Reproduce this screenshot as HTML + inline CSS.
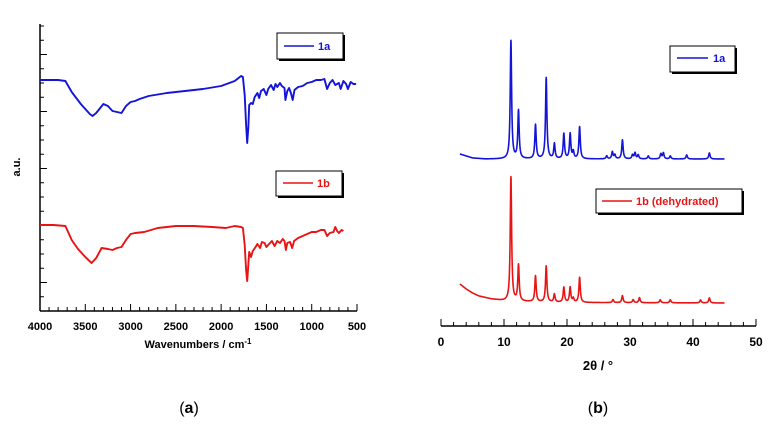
<!DOCTYPE html>
<html><head><meta charset="utf-8"><style>
body{margin:0;background:#fff;}
svg text{font-family:"Liberation Sans",Arial,sans-serif;}
</style></head><body>
<svg id="fig" width="772" height="430" viewBox="0 0 772 430" xmlns="http://www.w3.org/2000/svg">
<g id="irAxes"></g>
<g id="xrdAxes"></g>
<g id="series"></g>
<text x="20" y="167" transform="rotate(-90 20 167)" text-anchor="middle" font-size="11" font-weight="bold">a.u.</text>
<text x="198" y="348" text-anchor="middle" font-size="11" font-weight="bold">Wavenumbers / cm<tspan dy="-4" font-size="8">-1</tspan></text>
<text x="598" y="370" text-anchor="middle" font-size="13" font-weight="bold">2θ / °</text>
<text x="189" y="413" text-anchor="middle" font-size="16" font-family="Liberation Serif">(<tspan font-weight="bold">a</tspan>)</text>
<text x="598" y="413" text-anchor="middle" font-size="16" font-family="Liberation Serif">(<tspan font-weight="bold">b</tspan>)</text>
<g><rect x="279" y="35" width="66" height="26" fill="#000"/><rect x="277" y="33" width="66" height="26" fill="#fff" stroke="#000"/><line x1="284" y1="46" x2="314" y2="46" stroke="#1414d8" stroke-width="1.5"/><text x="318" y="50" font-size="11" font-weight="bold" fill="#1414d8">1a</text></g>
<g><rect x="278" y="173" width="66" height="25" fill="#000"/><rect x="276" y="171" width="66" height="25" fill="#fff" stroke="#000"/><line x1="283" y1="183" x2="313" y2="183" stroke="#e81414" stroke-width="1.5"/><text x="317" y="187" font-size="11" font-weight="bold" fill="#e81414">1b</text></g>
<g><rect x="672" y="48" width="65" height="26" fill="#000"/><rect x="670" y="46" width="65" height="26" fill="#fff" stroke="#000"/><line x1="677" y1="58" x2="708" y2="58" stroke="#1414d8" stroke-width="1.5"/><text x="713" y="62" font-size="11" font-weight="bold" fill="#1414d8">1a</text></g>
<g><rect x="598" y="191" width="146" height="24" fill="#000"/><rect x="596" y="189" width="146" height="24" fill="#fff" stroke="#000"/><line x1="602" y1="201" x2="632" y2="201" stroke="#e81414" stroke-width="1.5"/><text x="636" y="205" font-size="11" font-weight="bold" fill="#e81414">1b (dehydrated)</text></g>
</svg>
<script>
// IR data: wavenumber and absorbance (a.u., arbitrary scale)
const irBlueW=[4000,3800,3720,3650,3550,3450,3420,3380,3300,3250,3200,3150,3100,3050,3000,2950,2900,2800,2600,2400,2200,2000,1850,1780,1760,1740,1725,1712,1700,1690,1670,1650,1630,1600,1580,1560,1530,1500,1480,1450,1420,1400,1380,1350,1330,1300,1290,1270,1250,1230,1210,1190,1150,1100,1050,1000,950,900,860,830,800,770,740,700,680,650,620,600,570,540,510];
const irBlueV=[231,231,230,219,207,197,195,198,207,205,200,199,198,205,209,210,212,215,218,220,222,225,230,235,234,216,186,168,183,206,208,207,214,218,213,220,222,216,222,226,221,227,224,228,225,223,211,220,223,218,211,221,224,225,228,229,231,231,232,222,228,231,226,228,222,230,227,222,229,227,227];
const irRedW=[4000,3850,3720,3650,3580,3500,3430,3380,3320,3250,3200,3150,3100,3050,3000,2950,2850,2700,2500,2300,2100,1950,1850,1780,1760,1740,1725,1712,1700,1690,1670,1650,1620,1600,1570,1550,1520,1500,1470,1440,1410,1380,1350,1320,1300,1285,1270,1240,1215,1195,1150,1100,1000,950,900,860,830,800,760,740,720,700,670,650];
const irRedV=[86,86,85,71,62,54,48,53,63,62,61,63,64,71,77,78,79,83,85,85,84,83,85,84,83,66,41,30,46,59,54,60,64,67,63,69,68,64,67,70,65,70,68,72,70,61,68,69,63,70,73,75,79,79,81,81,75,78,79,84,80,78,81,80];
const irXTicks=[4000,3500,3000,2500,2000,1500,1000,500];
// XRD data: peak positions (2θ) and intensities, plus baseline
const xrdBluePos=[11.1,12.3,15.0,16.7,18.0,19.5,20.5,21.0,22.0,26.3,27.2,27.6,28.8,30.4,30.8,31.3,32.9,34.9,35.3,36.4,39.0,42.6];
const xrdBlueInt=[118,48,34,81,15,25,25,7,32,3,7,4,19,4,6,4,3,5,6,3,4,6];
const xrdBlueBaseX=[3,4,5,7,45];
const xrdBlueBaseY=[5,3,1,0,0];
const xrdRedPos=[11.1,12.3,15.0,16.7,18.0,19.5,20.5,21.0,22.0,27.3,28.8,30.5,31.5,34.8,36.4,41.2,42.6];
const xrdRedInt=[124,36,26,36,8,15,15,4,25,3,7,3,5,3,3,3,5];
const xrdRedBaseX=[3,4,5,6,8,10,15,20,45];
const xrdRedBaseY=[19,14,10,7,4,2.2,1,0.5,0];
const xrdXTicks=[0,10,20,30,40,50];

const NS="http://www.w3.org/2000/svg";
function mk(tag,attrs,parent){const e=document.createElementNS(NS,tag);for(const k in attrs)e.setAttribute(k,attrs[k]);parent.appendChild(e);return e;}
const irX=w=>40+(4000-w)*317/3500;
const irY=v=>311-v;
const ax=document.getElementById('irAxes');
mk('line',{x1:40,y1:24,x2:40,y2:311,stroke:'#000','stroke-width':1.5},ax);
mk('line',{x1:40,y1:311,x2:357,y2:311,stroke:'#000','stroke-width':1.5},ax);
for(let k=0;k<=20;k++){const y=311-k*14.25;if(y<23)break;const major=((k-2)%4==0);mk('line',{x1:40,y1:y,x2:major?47:44,y2:y,stroke:'#000','stroke-width':1},ax);}
for(let w=4000;w>=500;w-=100){const x=irX(w);const major=w%500==0;mk('line',{x1:x,y1:311,x2:x,y2:major?304:307,stroke:'#000','stroke-width':1},ax);}
irXTicks.forEach(w=>{const t=mk('text',{x:irX(w),y:330,'text-anchor':'middle','font-size':11,'font-weight':'bold'},ax);t.textContent=w;

});
const xX=t=>441+t*315/50;
const bx=document.getElementById('xrdAxes');
mk('line',{x1:441,y1:326,x2:756,y2:326,stroke:'#000','stroke-width':1.5},bx);
for(let t=0;t<=50;t+=2){const x=xX(t);const major=t%10==0;mk('line',{x1:x,y1:326,x2:x,y2:major?319:322,stroke:'#000','stroke-width':1},bx);}
xrdXTicks.forEach(t=>{const e=mk('text',{x:xX(t),y:346,'text-anchor':'middle','font-size':12,'font-weight':'bold'},bx);e.textContent=t;

});
const sg=document.getElementById('series');
function irPath(W,V,color,name){let d='';W.forEach((w,i)=>{d+=(i?'L':'M')+irX(w).toFixed(1)+','+irY(V[i]).toFixed(1);});
const p=mk('path',{d:d,fill:'none',stroke:color,'stroke-width':1.9,'stroke-linejoin':'round'},sg);

}
irPath(irBlueW,irBlueV,'#1414d8','ir-line-1a');
irPath(irRedW,irRedV,'#e81414','ir-line-1b');
function interp(xs,ys,t){if(t<=xs[0])return ys[0];for(let i=1;i<xs.length;i++){if(t<=xs[i]){const f=(t-xs[i-1])/(xs[i]-xs[i-1]);return ys[i-1]+f*(ys[i]-ys[i-1]);}}return ys[ys.length-1];}
function xrdPath(P,I,BX,BY,base,color,name){let d='';let first=true;const hw=0.13;
for(let t=3;t<=45.001;t+=0.02){let v=interp(BX,BY,t);P.forEach((p,i)=>{const u=(t-p)/hw;v+=I[i]/(1+u*u);});
d+=(first?'M':'L')+xX(t).toFixed(2)+','+(base-v).toFixed(2);first=false;}
const p=mk('path',{d:d,fill:'none',stroke:color,'stroke-width':1.6,'stroke-linejoin':'round'},sg);

}
xrdPath(xrdBluePos,xrdBlueInt,xrdBlueBaseX,xrdBlueBaseY,159,'#1414d8','xrd-line-1a');
xrdPath(xrdRedPos,xrdRedInt,xrdRedBaseX,xrdRedBaseY,303,'#e81414','xrd-line-1b');
</script>
</body></html>
